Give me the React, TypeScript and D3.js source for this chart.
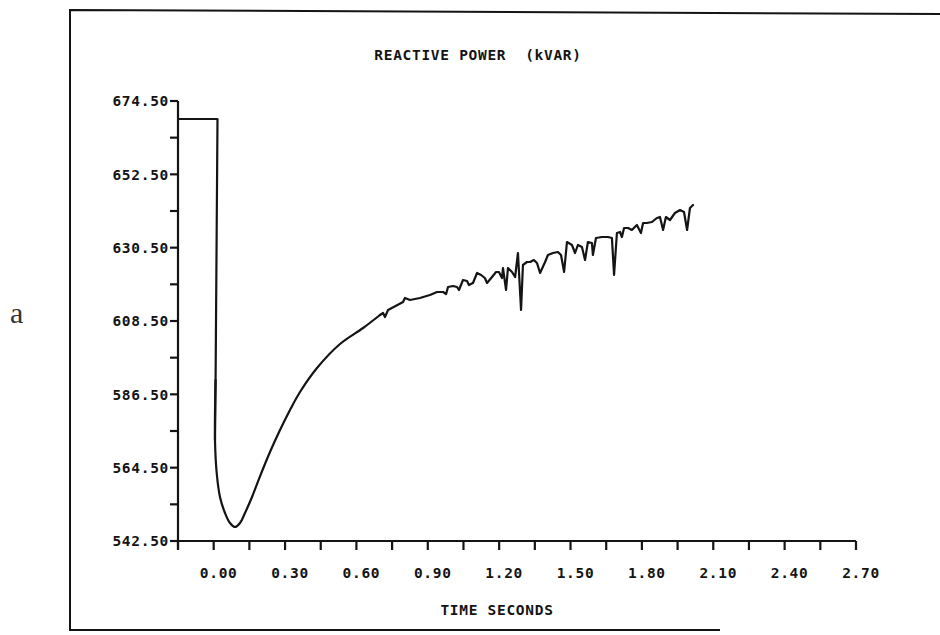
import React from "react";
import * as d3 from "d3";

const title = "REACTIVE POWER  (kVAR)";
const xTitle = "TIME SECONDS";
const panelLabel = "a";

const yMajorTicks = [542.5, 564.5, 586.5, 608.5, 630.5, 652.5, 674.5];
const yMinorTicks = [553.5, 575.5, 597.5, 619.5, 641.5, 663.5];
const xMajorTicks = [0.0, 0.3, 0.6, 0.9, 1.2, 1.5, 1.8, 2.1, 2.4, 2.7];
const xMinorTicks = [-0.15, 0.15, 0.45, 0.75, 1.05, 1.35, 1.65, 1.95, 2.25, 2.55];

// time (s) and reactive power (kVAR)
const timeS = [
  -0.15, 0.016, 0.012, 0.008, 0.0055, 0.0127, 0.0265, 0.0476, 0.0686, 0.0896,
  0.1106, 0.1316, 0.1611, 0.1947, 0.2367, 0.2788, 0.3208, 0.3628, 0.4343, 0.531,
  0.628, 0.699, 0.712, 0.72, 0.733, 0.796, 0.804, 0.825, 0.867,
  0.909, 0.939, 0.964, 0.977, 0.985, 1.006, 1.023, 1.031, 1.048, 1.065,
  1.073, 1.09, 1.107, 1.124, 1.14, 1.149, 1.17, 1.187, 1.199, 1.212,
  1.216, 1.229, 1.237, 1.254, 1.267, 1.279, 1.292, 1.3, 1.317, 1.33,
  1.346, 1.359, 1.372, 1.393, 1.405, 1.426, 1.447, 1.46, 1.473, 1.485,
  1.506, 1.519, 1.531, 1.548, 1.561, 1.573, 1.59, 1.594, 1.607, 1.632,
  1.658, 1.674, 1.683, 1.695, 1.708, 1.716, 1.725, 1.742, 1.758, 1.779,
  1.796, 1.805, 1.821, 1.842, 1.863, 1.876, 1.889, 1.901, 1.918, 1.939,
  1.96, 1.977, 1.99, 2.002, 2.015,
];

const kvar = [
  669.1, 669.1, 629.8, 590.8, 572.8, 562.9, 555.7, 550.9, 547.9, 546.7,
  547.9, 550.9, 555.7, 561.9, 569.2, 575.8, 581.8, 587.2, 594.4, 601.6,
  606.4, 610.3, 610.9, 609.7, 611.8, 614.2, 615.4, 614.8, 615.4,
  616.3, 617.2, 617.2, 616.6, 618.7, 619.0, 618.7, 617.8, 620.8, 620.5,
  619.3, 619.9, 622.9, 622.3, 621.4, 619.9, 621.7, 623.2, 623.2, 621.4,
  624.4, 617.8, 624.4, 623.2, 621.7, 628.9, 611.8, 625.3, 626.2, 626.2,
  626.8, 625.9, 622.9, 626.2, 628.3, 628.9, 629.2, 628.3, 623.2, 632.2,
  631.3, 628.9, 631.3, 630.7, 626.8, 632.2, 631.9, 628.3, 633.4, 633.7,
  633.7, 633.4, 622.3, 634.9, 635.2, 633.7, 636.4, 636.4, 635.8, 637.3,
  634.9, 637.9, 637.9, 638.2, 639.4, 639.7, 635.8, 639.7, 638.8, 640.9,
  641.8, 641.2, 635.8, 642.4, 643.3,
];

// index where the smooth recovery ends and the jittery part begins
const smoothEnd = 21;

const fmt = d3.format(".2f");

export default function App() {
  const W = 940;
  const H = 635;
  const x = d3.scaleLinear().domain([-0.15, 2.7]).range([178, 856]);
  const y = d3.scaleLinear().domain([542.5, 674.5]).range([541, 101]);

  const pts = timeS.map((t, i) => [t, kvar[i]] as [number, number]);
  const stepPart = pts.slice(0, 5);
  const smoothPart = pts.slice(3, smoothEnd + 1);
  const noisyPart = pts.slice(smoothEnd);

  const linear = d3
    .line<[number, number]>()
    .x((d) => x(d[0]))
    .y((d) => y(d[1]))
    .curve(d3.curveLinear);
  const smooth = d3
    .line<[number, number]>()
    .x((d) => x(d[0]))
    .y((d) => y(d[1]))
    .curve(d3.curveCatmullRom.alpha(0.5));

  const ink = "#141414";
  const font = "'DejaVu Sans Mono', monospace";
  const x0 = x.range()[0];
  const yBottom = y.range()[0];
  const yTop = y.range()[1];
  const fs = 14.5;
  const ls = 0.7;

  return (
    <svg
      width={W}
      height={H}
      viewBox={`0 0 ${W} ${H}`}
      style={{ position: "absolute", left: 0, top: 0, display: "block", background: "#fff" }}
    >
      <rect x={0} y={0} width={W} height={H} fill="#fff" />
      {/* frame */}
      <path d={`M940,14 L70,10 L70,630 L720,630`} fill="none" stroke={ink} strokeWidth={2} />
      <text x={10} y={323} fontFamily="'Liberation Serif', 'DejaVu Serif', serif" fontSize={30} fill="#333">
        {panelLabel}
      </text>

      {/* title */}
      <text
        x={478}
        y={60}
        textAnchor="middle"
        fontFamily={font}
        fontWeight="bold"
        fontSize={fs}
        letterSpacing={ls}
        fill={ink}
        style={{ whiteSpace: "pre" }}
      >
        {title}
      </text>

      {/* y axis */}
      <line x1={x0} x2={x0} y1={yTop} y2={yBottom + 8} stroke={ink} strokeWidth={2.2} />
      {yMajorTicks.map((v) => (
        <g key={"ym" + v}>
          <line x1={x0 - 8} x2={x0} y1={y(v)} y2={y(v)} stroke={ink} strokeWidth={2.2} />
          <text
            x={x0 - 9}
            y={y(v)}
            dy="0.36em"
            textAnchor="end"
            fontFamily={font}
            fontWeight="bold"
            fontSize={fs}
            letterSpacing={ls}
            fill={ink}
          >
            {fmt(v)}
          </text>
        </g>
      ))}
      {yMinorTicks.map((v) => (
        <line key={"yn" + v} x1={x0 - 8} x2={x0} y1={y(v)} y2={y(v)} stroke={ink} strokeWidth={2.2} />
      ))}

      {/* x axis */}
      <line x1={x0} x2={x(2.7)} y1={yBottom} y2={yBottom} stroke={ink} strokeWidth={2.2} />
      {xMinorTicks.map((t) => (
        <line key={"xn" + t} x1={x(t)} x2={x(t)} y1={yBottom} y2={yBottom + 9} stroke={ink} strokeWidth={2.2} />
      ))}
      {xMajorTicks.map((t) => (
        <g key={"xm" + t}>
          <line x1={x(t)} x2={x(t)} y1={yBottom} y2={yBottom + 9} stroke={ink} strokeWidth={2.2} />
          <text
            x={x(t) + 5}
            y={578}
            textAnchor="middle"
            fontFamily={font}
            fontWeight="bold"
            fontSize={fs}
            letterSpacing={ls}
            fill={ink}
          >
            {fmt(t)}
          </text>
        </g>
      ))}
      <text
        x={497}
        y={615}
        textAnchor="middle"
        fontFamily={font}
        fontWeight="bold"
        fontSize={fs}
        letterSpacing={ls}
        fill={ink}
      >
        {xTitle}
      </text>

      {/* data */}
      <g fill="none" stroke={ink} strokeWidth={2.2} strokeLinejoin="round" strokeLinecap="round">
        <path d={linear(stepPart) || ""} />
        <path d={smooth(smoothPart) || ""} />
        <path d={linear(noisyPart) || ""} />
      </g>
    </svg>
  );
}
